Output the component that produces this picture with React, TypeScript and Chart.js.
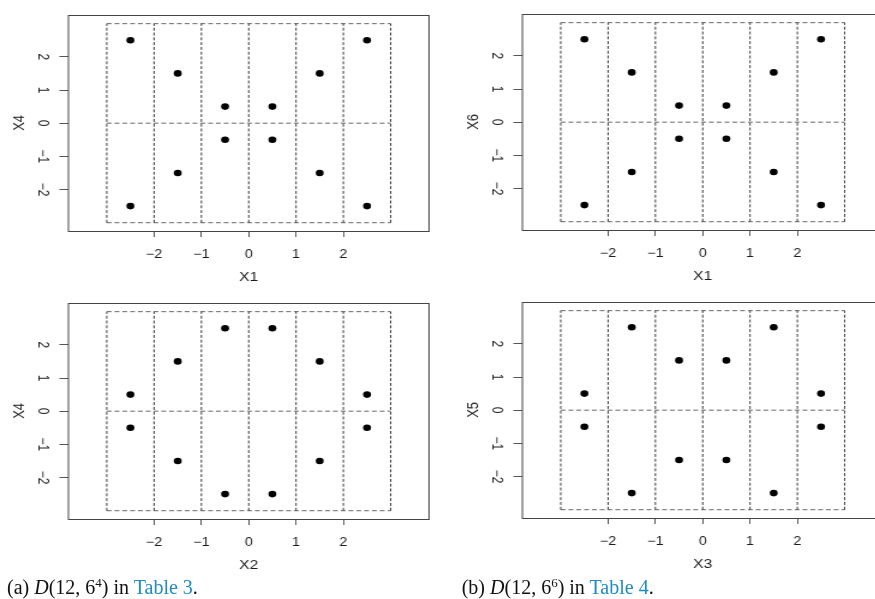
import React, { useEffect, useRef } from "react";
import { Chart, registerables } from "chart.js";

Chart.register(...registerables);

// ---- data ----
const designA_X1 = [-2.5, -2.5, -1.5, -1.5, -0.5, -0.5, 0.5, 0.5, 1.5, 1.5, 2.5, 2.5];
const designA_X2 = [-0.5, -0.5, -1.5, -1.5, -2.5, -2.5, 2.5, 2.5, 1.5, 1.5, 0.5, 0.5];
const designA_X4 = [2.5, -2.5, 1.5, -1.5, 0.5, -0.5, 0.5, -0.5, 1.5, -1.5, 2.5, -2.5];

const designB_X1 = [-2.5, -2.5, -1.5, -1.5, -0.5, -0.5, 0.5, 0.5, 1.5, 1.5, 2.5, 2.5];
const designB_X6 = [2.5, -2.5, 1.5, -1.5, 0.5, -0.5, 0.5, -0.5, 1.5, -1.5, 2.5, -2.5];
const designB_X3 = [-2.5, -2.5, -1.5, -1.5, -0.5, -0.5, 0.5, 0.5, 1.5, 1.5, 2.5, 2.5];
const designB_X5 = [0.5, -0.5, 2.5, -2.5, 1.5, -1.5, 1.5, -1.5, 2.5, -2.5, 0.5, -0.5];

const cellBreaksX = [-3, -2, -1, 0, 1, 2, 3];
const cellBreaksY = [-3, 0, 3];
const xTickValues = [-2, -1, 0, 1, 2];
const yTickValues = [-2, -1, 0, 1, 2];
const axisMinX = -3.81;
const axisMaxX = 3.81;
const axisMinY = -3.25;
const axisMaxY = 3.27;

const K = 1.2; // horizontal stretch of the original figure
const FONT = "'Liberation Sans', Arial, Helvetica, sans-serif";

const framePlugin = {
  id: "frame",
  afterDraw(chart: any) {
    const { ctx, chartArea: a } = chart;
    ctx.save();
    ctx.strokeStyle = "#444";
    ctx.lineWidth = 1;
    const t = Math.round(a.top) + 0.5;
    const b = Math.round(a.bottom) + 0.5;
    ctx.strokeRect(a.left, t, a.right - a.left, b - t);
    ctx.restore();
  },
};

const fmt = (v: number) => String(v).replace("-", "\u2212");

function Panel({ xs, ys, xLabel, yLabel, left, top }: any) {
  const ref = useRef<HTMLCanvasElement>(null);
  useEffect(() => {
    if (!ref.current) return;
    const gridSets: any[] = [];
    cellBreaksX.forEach((bx) => {
      gridSets.push({
        data: [
          { x: bx, y: cellBreaksY[0] },
          { x: bx, y: cellBreaksY[cellBreaksY.length - 1] },
        ],
        showLine: true,
        borderColor: "#3c3c3c",
        borderWidth: 1,
        borderDash: [3, 1.8],
        pointRadius: 0,
        fill: false,
      });
    });
    cellBreaksY.forEach((by) => {
      gridSets.push({
        data: [
          { x: cellBreaksX[0], y: by },
          { x: cellBreaksX[cellBreaksX.length - 1], y: by },
        ],
        showLine: true,
        borderColor: "#666",
        borderWidth: 1,
        borderDash: [4, 2.5],
        pointRadius: 0,
        fill: false,
      });
    });
    const pts = {
      data: xs.map((x: number, i: number) => ({ x, y: ys[i] })),
      showLine: false,
      pointRadius: 3.3,
      pointBackgroundColor: "#000",
      pointBorderWidth: 0,
      borderWidth: 0,
      pointHoverRadius: 3.3,
    };
    const chart = new Chart(ref.current, {
      type: "scatter",
      data: { datasets: [...gridSets, pts] },
      options: {
        animation: false,
        responsive: false,
        devicePixelRatio: 1,
        events: [],
        layout: { padding: { top: 12, right: 9.5, left: 0, bottom: 0 } },
        plugins: { legend: { display: false }, tooltip: { enabled: false } },
        scales: {
          x: {
            type: "linear",
            min: axisMinX,
            max: axisMaxX,
            afterBuildTicks: (s: any) => {
              s.ticks = xTickValues.map((v) => ({ value: v }));
            },
            afterFit: (s: any) => {
              s.height = 59;
            },
            grid: {
              display: true,
              drawOnChartArea: false,
              drawTicks: true,
              tickLength: 6,
              tickColor: "#555",
            },
            border: { display: false },
            ticks: {
              callback: (v: any) => fmt(v),
              color: "#1a1a1a",
              font: { family: FONT, size: 12 },
              padding: 10,
              maxRotation: 0,
              minRotation: 0,
              autoSkip: false,
            },
            title: {
              display: true,
              text: xLabel,
              color: "#1a1a1a",
              font: { family: FONT, size: 13 },
              padding: { top: 0, bottom: 5.2 },
            },
          },
          y: {
            type: "linear",
            min: axisMinY,
            max: axisMaxY,
            afterBuildTicks: (s: any) => {
              s.ticks = yTickValues.map((v) => ({ value: v }));
            },
            afterFit: (s: any) => {
              s.width = 57;
            },
            grid: {
              display: true,
              drawOnChartArea: false,
              drawTicks: true,
              tickLength: 7.5,
              tickColor: "#555",
            },
            border: { display: false },
            ticks: {
              callback: (v: any) => fmt(v),
              color: "#1a1a1a",
              font: { family: FONT, size: 12 },
              padding: 7.5,
              minRotation: -90,
              maxRotation: -90,
              crossAlign: "center",
              autoSkip: false,
            },
            title: {
              display: true,
              text: yLabel,
              color: "#1a1a1a",
              font: { family: FONT, size: 13 },
              padding: { top: 8.9, bottom: 0 },
            },
          },
        },
      },
      plugins: [framePlugin],
    } as any);
    return () => chart.destroy();
  }, []);
  return (
    <div
      style={{
        position: "absolute",
        left,
        top,
        width: 367,
        height: 290,
        transform: `scaleX(${K})`,
        transformOrigin: "0 0",
      }}
    >
      <canvas ref={ref} width={367} height={290} />
    </div>
  );
}

const captionStyle: React.CSSProperties = {
  position: "absolute",
  top: 577,
  fontFamily: "'Liberation Serif', 'DejaVu Serif', serif",
  fontSize: 20,
  lineHeight: "20px",
  color: "#111",
  whiteSpace: "nowrap",
};
const linkColor = "#1f8bc0";
const supStyle: React.CSSProperties = { fontSize: 13, lineHeight: 0, verticalAlign: "7px" };

export default function App() {
  return (
    <div
      style={{
        position: "absolute",
        left: 0,
        top: 0,
        width: 875,
        height: 599,
        overflow: "hidden",
        background: "#fff",
      }}
    >
      <Panel xs={designA_X1} ys={designA_X4} xLabel="X1" yLabel="X4" left={0} top={0} />
      <Panel xs={designB_X1} ys={designB_X6} xLabel="X1" yLabel="X6" left={454.3} top={-1} />
      <Panel xs={designA_X2} ys={designA_X4} xLabel="X2" yLabel="X4" left={0} top={288} />
      <Panel xs={designB_X3} ys={designB_X5} xLabel="X3" yLabel="X5" left={454.3} top={287.3} />
      <div style={{ ...captionStyle, left: 7 }}>
        (a) <i>D</i>(12, 6<span style={supStyle}>4</span>) in{" "}
        <span style={{ color: linkColor }}>Table 3</span>.
      </div>
      <div style={{ ...captionStyle, left: 461.7 }}>
        (b) <i>D</i>(12, 6<span style={supStyle}>6</span>) in{" "}
        <span style={{ color: linkColor }}>Table 4</span>.
      </div>
    </div>
  );
}
